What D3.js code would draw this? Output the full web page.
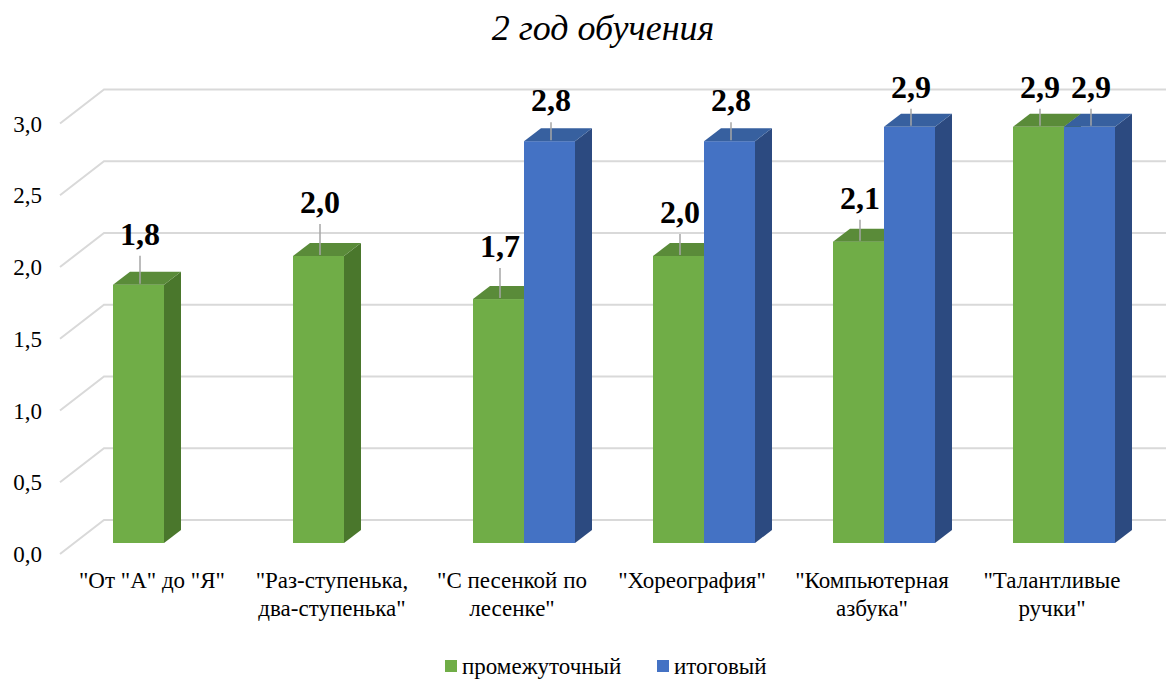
<!DOCTYPE html>
<html><head>
<script src="https://cdn.jsdelivr.net/npm/d3@7"></script>
</head>
<body style="margin:0">
<svg id="s" width="1169" height="679"></svg>
<script>
const title = "2 год обучения";
const categories = ['"От "А" до "Я"', '"Раз-ступенька, два-ступенька"', '"С песенкой по лесенке"', '"Хореография"', '"Компьютерная азбука"', '"Талантливые ручки"'];
const seriesNames = ["промежуточный", "итоговый"];
const interimValues = [1.8, 2.0, 1.7, 2.0, 2.1, 2.9];
const finalValues = [null, null, 2.8, 2.8, 2.9, 2.9];
const yTicks = [0, 0.5, 1.0, 1.5, 2.0, 2.5, 3.0];

// layout (label lift above bar top, px)
const liftInterim = [40, 43, 42, 33, 33, 29];
const liftFinal = [0, 0, 30, 30, 29, 29];

const FONT = '"Liberation Serif"';

const colors = {
  front: ["#70ad47", "#4472c4"],
  top: ["#5a8b39", "#37609f"],
  side: ["#4a772c", "#2c4a80"]
};

const svg = d3.select("#s");
const fmt = v => d3.format(".1f")(v).replace(".", ",");

const y = d3.scaleLinear().domain([0, 3]).range([543, 112.5]);
const x = d3.scaleBand().domain(categories).range([74, 1154]);
const xs = d3.scaleBand().domain([0, 1]).range([39, 141]);
const xl = d3.scaleBand().domain(categories).range([62, 1142]);
const DX = 17, DY = 13;
const floorFront = 11, floorBack = 23;
const gridX0 = 60, gridX1 = 104, gridXEnd = 1166;

function txt(sel) {
  return sel.attr("font-family", "Liberation Serif").style("font-family", FONT).attr("fill", "#000");
}

// gridlines + y tick labels
yTicks.forEach(v => {
  svg.append("path")
    .attr("d", `M${gridX0},${y(v) + floorFront}L${gridX1},${y(v) - floorBack}L${gridXEnd},${y(v) - floorBack}`)
    .attr("fill", "none").attr("stroke", "#d9d9d9").attr("stroke-width", 2);
  txt(svg.append("text")).attr("x", 42).attr("y", y(v) + floorFront + 8)
    .attr("text-anchor", "end").style("font-size", "23px").text(fmt(v));
});

// bars
const series = [interimValues, finalValues];
categories.forEach((c, i) => {
  series.forEach((vals, s) => {
    const v = vals[i];
    if (v == null) return;
    const x0 = x(c) + xs(s), x1 = x0 + xs.bandwidth();
    const yt = y(v), yb = y(0);
    svg.append("rect").attr("x", x0).attr("y", yt).attr("width", x1 - x0).attr("height", yb - yt)
      .attr("fill", colors.front[s]);
    svg.append("path").attr("d", `M${x1},${yt}L${x1 + DX},${yt - DY}L${x1 + DX},${yb - DY}L${x1},${yb}Z`)
      .attr("fill", colors.side[s]);
    svg.append("path").attr("d", `M${x0},${yt}L${x0 + DX},${yt - DY}L${x1 + DX},${yt - DY}L${x1},${yt}Z`)
      .attr("fill", colors.top[s]);
  });
});

// value labels
const lifts = [liftInterim, liftFinal];
categories.forEach((c, i) => {
  series.forEach((vals, s) => {
    const v = vals[i];
    if (v == null) return;
    const cx = x(c) + xs(s) + xs.bandwidth() / 2 + 1.5;
    const yt = y(v);
    const base = yt - lifts[s][i];
    if (yt - 2 - (base + 11) > 4) {
      svg.append("line").attr("x1", cx).attr("x2", cx).attr("y1", base + 11).attr("y2", yt - 1)
        .attr("stroke", "#a6a6a6").attr("stroke-width", 1.5);
    }
    txt(svg.append("text")).attr("x", cx).attr("y", base).attr("text-anchor", "middle")
      .style("font-size", "32px").style("font-weight", "bold").text(fmt(v));
  });
});

// category labels with wrapping
categories.forEach(c => {
  const cx = xl(c) + xl.bandwidth() / 2;
  const t = txt(svg.append("text")).attr("x", cx).attr("y", 588)
    .attr("text-anchor", "middle").style("font-size", "23px");
  const words = c.split(" ");
  let line = [];
  let tspan = t.append("tspan").attr("x", cx).attr("dy", 0);
  words.forEach(w => {
    line.push(w);
    tspan.text(line.join(" "));
    if (tspan.node().getComputedTextLength() > 170 && line.length > 1) {
      line.pop();
      tspan.text(line.join(" "));
      line = [w];
      tspan = t.append("tspan").attr("x", cx).attr("dy", 28).text(w);
    }
  });
});

// legend
const legendX = [445, 657];
seriesNames.forEach((n, s) => {
  svg.append("rect").attr("x", legendX[s]).attr("y", 660).attr("width", 12).attr("height", 12)
    .attr("fill", colors.front[s]);
  txt(svg.append("text")).attr("x", legendX[s] + 17).attr("y", 674).style("font-size", "23px").text(n);
});

// title
txt(svg.append("text")).attr("x", 603).attr("y", 40).attr("text-anchor", "middle")
  .style("font-style", "italic").style("font-size", "36px").text(title);
</script>
</body></html>
